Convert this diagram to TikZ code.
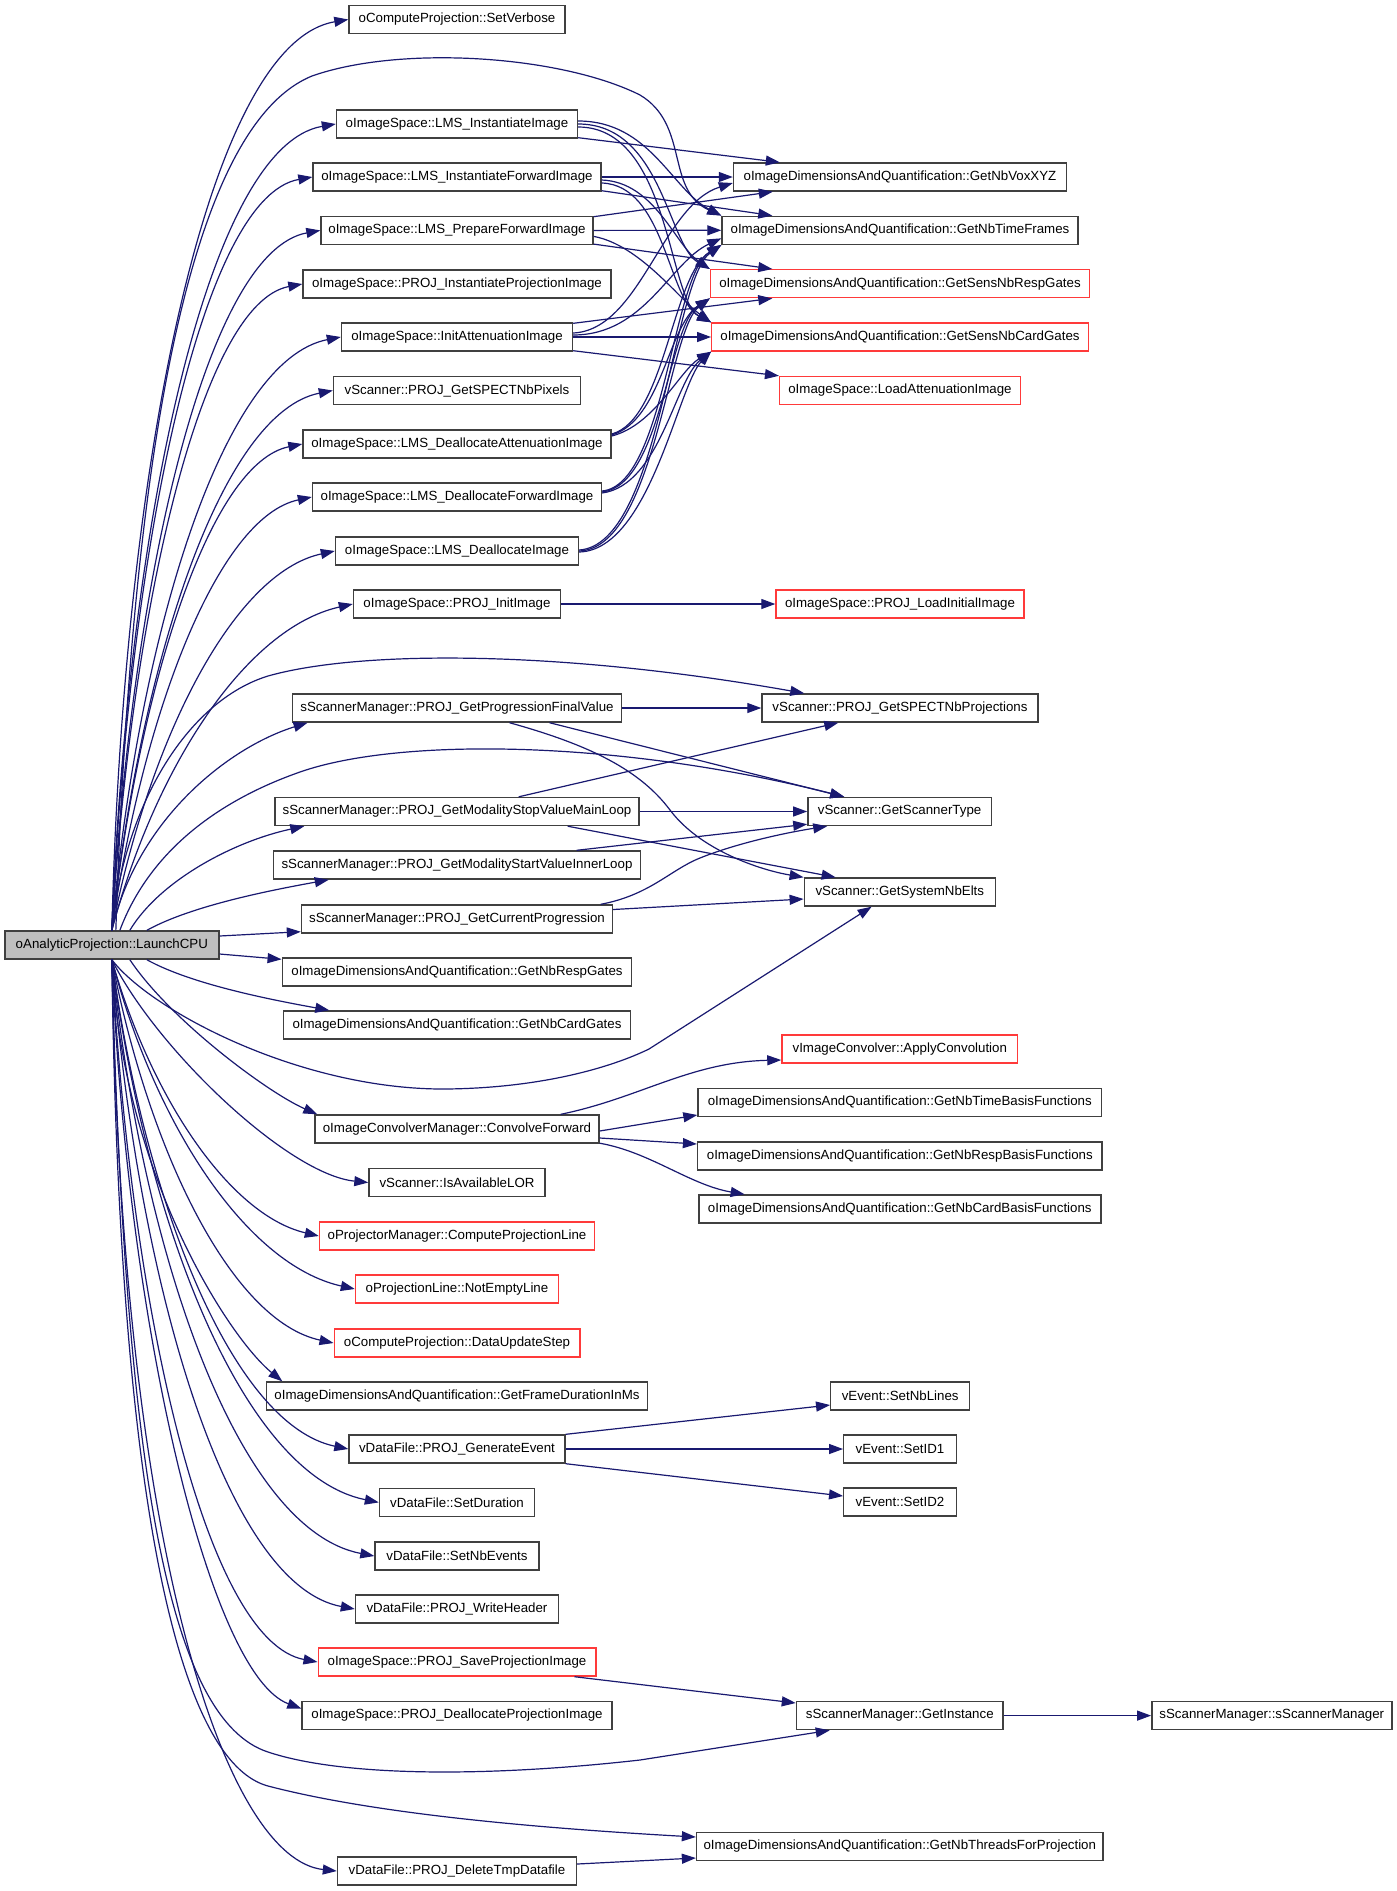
\documentclass[tikz,border=0pt]{standalone}
\usepackage{fontspec}
\setmainfont{Liberation Sans}
\usetikzlibrary{arrows.meta}
\definecolor{edgec}{HTML}{191970}
\definecolor{bordc}{HTML}{404040}
\definecolor{redc}{HTML}{FF3A3A}
\definecolor{rootc}{HTML}{BFBFBF}
\begin{document}
\begin{tikzpicture}[x=1pt,y=-1pt,
 box/.style={draw=bordc,line width=1.4pt,fill=white,minimum height=28pt,inner sep=0pt,font=\fontsize{13.3}{15}\selectfont},
 redbox/.style={box,draw=redc},
 rootbox/.style={box,fill=rootc},
 e/.style={draw=edgec,line width=1.2pt,-{Triangle[length=14pt,width=10pt]}}]
\useasboundingbox (0,0) rectangle (1397,1891);
\fill[white] (0,0) rectangle (1397,1891);
% left column
\node[box,minimum width=216pt] (n1) at (457,19.5) {oComputeProjection::SetVerbose};
\node[box,minimum width=241pt] (n2) at (457,124) {oImageSpace::LMS\_InstantiateImage};
\node[box,minimum width=288pt] (n3) at (457,177) {oImageSpace::LMS\_InstantiateForwardImage};
\node[box,minimum width=272pt] (n4) at (457,230.4) {oImageSpace::LMS\_PrepareForwardImage};
\node[box,minimum width=308pt] (n5) at (457,284) {oImageSpace::PROJ\_InstantiateProjectionImage};
\node[box,minimum width=231pt] (n6) at (457,337) {oImageSpace::InitAttenuationImage};
\node[box,minimum width=247pt] (n7) at (457,390.5) {vScanner::PROJ\_GetSPECTNbPixels};
\node[box,minimum width=308pt] (n8) at (457,444) {oImageSpace::LMS\_DeallocateAttenuationImage};
\node[box,minimum width=289pt] (n9) at (457,497) {oImageSpace::LMS\_DeallocateForwardImage};
\node[box,minimum width=243pt] (n10) at (457,551) {oImageSpace::LMS\_DeallocateImage};
\node[box,minimum width=207pt] (n11) at (457,604) {oImageSpace::PROJ\_InitImage};
\node[box,minimum width=329.5pt] (n12) at (457,708) {sScannerManager::PROJ\_GetProgressionFinalValue};
\node[box,minimum width=364pt] (n13) at (457,811.5) {sScannerManager::PROJ\_GetModalityStopValueMainLoop};
\node[box,minimum width=367pt] (n14) at (457,865) {sScannerManager::PROJ\_GetModalityStartValueInnerLoop};
\node[box,minimum width=311pt] (n15) at (457,919) {sScannerManager::PROJ\_GetCurrentProgression};
\node[rootbox,minimum width=214pt] (L) at (111.85,945) {oAnalyticProjection::LaunchCPU};
\node[box,minimum width=349.5pt] (n16) at (457,972) {oImageDimensionsAndQuantification::GetNbRespGates};
\node[box,minimum width=347pt] (n17) at (457,1025) {oImageDimensionsAndQuantification::GetNbCardGates};
\node[box,minimum width=284pt] (n18) at (457,1129) {oImageConvolverManager::ConvolveForward};
\node[box,minimum width=176pt] (n19) at (457,1182.5) {vScanner::IsAvailableLOR};
\node[redbox,minimum width=275pt] (n20) at (457,1236) {oProjectorManager::ComputeProjectionLine};
\node[redbox,minimum width=203pt] (n21) at (457,1289) {oProjectionLine::NotEmptyLine};
\node[redbox,minimum width=245.6pt] (n22) at (457,1343) {oComputeProjection::DataUpdateStep};
\node[box,minimum width=381pt] (n23) at (457,1396) {oImageDimensionsAndQuantification::GetFrameDurationInMs};
\node[box,minimum width=216pt] (n24) at (457,1449) {vDataFile::PROJ\_GenerateEvent};
\node[box,minimum width=155pt] (n25) at (457,1502.4) {vDataFile::SetDuration};
\node[box,minimum width=164pt] (n26) at (457,1556) {vDataFile::SetNbEvents};
\node[box,minimum width=203pt] (n27) at (457,1609) {vDataFile::PROJ\_WriteHeader};
\node[redbox,minimum width=277.6pt] (n28) at (457,1662) {oImageSpace::PROJ\_SaveProjectionImage};
\node[box,minimum width=310pt] (n29) at (457,1715.5) {oImageSpace::PROJ\_DeallocateProjectionImage};
\node[box,minimum width=239pt] (n30) at (457,1871) {vDataFile::PROJ\_DeleteTmpDatafile};
% right column
\node[box,minimum width=333pt] (r1) at (900,177) {oImageDimensionsAndQuantification::GetNbVoxXYZ};
\node[box,minimum width=356pt] (r2) at (900,230.3) {oImageDimensionsAndQuantification::GetNbTimeFrames};
\node[redbox,minimum width=379pt] (r3) at (900,283.7) {oImageDimensionsAndQuantification::GetSensNbRespGates};
\node[redbox,minimum width=376.5pt] (r4) at (900,337) {oImageDimensionsAndQuantification::GetSensNbCardGates};
\node[redbox,minimum width=240.7pt] (r5) at (900,390.5) {oImageSpace::LoadAttenuationImage};
\node[redbox,minimum width=248pt] (r6) at (900,604) {oImageSpace::PROJ\_LoadInitialImage};
\node[box,minimum width=276pt] (r7) at (900,708) {vScanner::PROJ\_GetSPECTNbProjections};
\node[box,minimum width=183.4pt] (r8) at (899.6,811.5) {vScanner::GetScannerType};
\node[box,minimum width=191pt] (r9) at (899.8,892) {vScanner::GetSystemNbElts};
\node[redbox,minimum width=235.7pt] (r10) at (899.8,1049) {vImageConvolver::ApplyConvolution};
\node[box,minimum width=403.6pt] (r11) at (899.8,1102.5) {oImageDimensionsAndQuantification::GetNbTimeBasisFunctions};
\node[box,minimum width=404.4pt] (r12) at (899.8,1156) {oImageDimensionsAndQuantification::GetNbRespBasisFunctions};
\node[box,minimum width=402pt] (r13) at (899.8,1209) {oImageDimensionsAndQuantification::GetNbCardBasisFunctions};
\node[box,minimum width=139pt] (r14) at (900.2,1396) {vEvent::SetNbLines};
\node[box,minimum width=112.5pt] (r15) at (900,1449) {vEvent::SetID1};
\node[box,minimum width=112.5pt] (r16) at (900,1502) {vEvent::SetID2};
\node[box,minimum width=206.7pt] (r17) at (899.8,1715.6) {sScannerManager::GetInstance};
\node[box,minimum width=406.5pt] (r18) at (899.8,1846.5) {oImageDimensionsAndQuantification::GetNbThreadsForProjection};
\node[box,minimum width=240pt] (s1) at (1271.8,1715.6) {sScannerManager::sScannerManager};
% ---- edges from LaunchCPU, upper fan
\draw[e] (L.north) .. controls +(11,-456) and +(-143,24) .. (n1.west);
\draw[e] ([xshift=4pt]L.north) .. controls (130,500) and (180,130) .. (312,76) .. controls (400,45) and (560,55) .. (640,95) .. controls (690,125) and (665,190) .. (r2.north west);
\draw[e] (L.north) .. controls +(16,-403) and +(-129,22) .. (n2.west);
\draw[e] (L.north) .. controls +(17,-377) and +(-112,20) .. (n3.west);
\draw[e] (L.north) .. controls +(20,-350) and +(-114,21) .. (n4.west);
\draw[e] (L.north) .. controls +(20,-323) and +(-101,19) .. (n5.west);
\draw[e] (L.north) .. controls +(27,-297) and +(-118,23) .. (n6.west);
\draw[e] (L.north) .. controls +(29,-270) and +(-111,22) .. (n7.west);
\draw[e] (L.north) .. controls +(27,-243) and +(-93,19) .. (n8.west);
\draw[e] (L.north) .. controls +(31,-217) and +(-94,20) .. (n9.west);
\draw[e] (L.north) .. controls +(37,-190) and +(-102,22) .. (n10.west);
\draw[e] (L.north) .. controls +(43,-163) and +(-107,24) .. (n11.west);
\draw[e] (L.north) .. controls (125,800) and (190,700) .. (268,676) .. controls (360,650) and (560,650) .. ([xshift=43pt]r7.north west);
\draw[e] (L.north) .. controls +(25,-110) and +(-80,25) .. ([xshift=16pt]n12.south west);
\draw[e] ([xshift=8pt]L.north) .. controls (150,850) and (220,800) .. (300,772) .. controls (400,737) and (620,740) .. ([xshift=37pt]r8.north west);
\draw[e] ([xshift=18pt]L.north) .. controls +(30,-50) and +(-70,15) .. ([xshift=30pt]n13.south west);
\draw[e] ([xshift=35pt]L.north) .. controls +(45,-25) and +(-55,10) .. ([xshift=56pt]n14.south west);
\draw[e] ([yshift=9pt]L.east) -- ([yshift=2pt]n15.south west);
\draw[e] ([yshift=-9pt]L.east) -- ([yshift=-2pt]n16.north west);
% lower fan
\draw[e] ([xshift=35pt]L.south) .. controls +(45,25) and +(-55,-10) .. ([xshift=46.5pt]n17.north west);
\draw[e] (L.south) .. controls (150,1010) and (300,1090) .. (446,1089) .. controls (540,1088) and (610,1068) .. (649,1049) -- ([xshift=68pt]r9.south west);
\draw[e] ([xshift=18pt]L.south) .. controls +(40,60) and +(-50,-22) .. ([xshift=3pt]n18.north west);
\draw[e] (L.south) .. controls +(45,90) and +(-80,-8) .. (n19.west);
\draw[e] (L.south) .. controls +(39,138) and +(-89,-21) .. (n20.west);
\draw[e] (L.south) .. controls +(43,165) and +(-108,-24) .. (n21.west);
\draw[e] (L.south) .. controls +(37,192) and +(-102,-22) .. (n22.west);
\draw[e] (L.south) .. controls +(10,211) and +(-55,-45) .. ([xshift=16.5pt]n23.north west);
\draw[e] (L.south) .. controls +(33,245) and +(-115,-24) .. (n24.west);
\draw[e] (L.south) .. controls +(35,271) and +(-134,-27) .. (n25.west);
\draw[e] (L.south) .. controls +(31,298) and +(-136,-26) .. (n26.west);
\draw[e] (L.south) .. controls +(26,325) and +(-129,-24) .. (n27.west);
\draw[e] (L.south) .. controls +(19,351) and +(-112,-21) .. (n28.west);
\draw[e] (L.south) .. controls +(16,375) and +(-90,-33) .. ([yshift=7pt]n29.west);
\draw[e] (L.south) .. controls (125,1480) and (170,1720) .. (268,1752) .. controls (340,1776) and (480,1778) .. (640,1760) -- ([xshift=34pt]r17.south west);
\draw[e] (L.south) .. controls (120,1560) and (190,1765) .. (268,1786) .. controls (360,1810) and (500,1826) .. ([yshift=9.5pt]r18.west);
\draw[e] (L.south) .. controls +(10,600) and +(-110,-12) .. (n30.west);
% ---- bundle to image dimension getters
\draw[e] ([yshift=1pt]n2.south east) -- ([xshift=47pt]r1.north west);
\draw[e] ([yshift=3pt]n2.east) .. controls (650,121) and (672,190) .. (r2.north west);
\draw[e] (n2.east) .. controls (662,124) and (668,245) .. (r3.north west);
\draw[e] ([yshift=-3pt]n2.east) .. controls (670,127) and (668,300) .. (r4.north west);
\draw[e] (n3.east) -- (r1.west);
\draw[e] ([yshift=1pt]n3.south east) -- ([xshift=51pt]r2.north west);
\draw[e] ([yshift=-3pt]n3.east) .. controls (655,182) and (675,245) .. (r3.north west);
\draw[e] ([yshift=-6pt]n3.east) .. controls (665,185) and (668,300) .. (r4.north west);
\draw[e] ([yshift=-1pt]n4.north east) -- ([xshift=40pt]r1.south west);
\draw[e] (n4.east) -- (r2.west);
\draw[e] ([yshift=1pt]n4.south east) -- ([xshift=62.5pt]r3.north west);
\draw[e] ([yshift=-6pt]n4.east) .. controls (640,245) and (680,300) .. (r4.north west);
\draw[e] ([yshift=4pt]n6.east) .. controls (640,330) and (662,205) .. ([yshift=-6pt]r1.west);
\draw[e] ([yshift=2pt]n6.east) .. controls (645,335) and (670,262) .. ([yshift=-8pt]r2.west);
\draw[e] ([yshift=-1pt]n6.north east) -- ([xshift=62.5pt]r3.south west);
\draw[e] (n6.east) -- (r4.west);
\draw[e] ([yshift=1pt]n6.south east) -- (r5.north west);
\draw[e] ([yshift=10pt]n8.east) .. controls (665,420) and (672,275) .. (r2.south west);
\draw[e] ([yshift=9pt]n8.east) .. controls (662,420) and (668,325) .. (r3.south west);
\draw[e] ([yshift=8pt]n8.east) .. controls (655,425) and (680,370) .. (r4.south west);
\draw[e] ([yshift=6pt]n9.east) .. controls (665,485) and (672,275) .. (r2.south west);
\draw[e] ([yshift=5pt]n9.east) .. controls (662,485) and (668,325) .. (r3.south west);
\draw[e] ([yshift=4pt]n9.east) .. controls (660,485) and (675,380) .. (r4.south west);
\draw[e] ([yshift=1pt]n10.east) .. controls (660,545) and (672,280) .. (r2.south west);
\draw[e] (n10.east) .. controls (655,548) and (668,330) .. (r3.south west);
\draw[e] ([yshift=-1pt]n10.east) .. controls (650,550) and (678,385) .. (r4.south west);
% ---- other edges
\draw[e] (n11.east) -- (r6.west);
\draw[e] (n12.east) -- (r7.west);
\draw[e] ([xshift=-73pt]n12.south east) -- ([xshift=37pt]r8.north west);
\draw[e] ([xshift=-113pt]n12.south east) .. controls (590,745) and (640,770) .. (670,810) .. controls (700,850) and (760,870) .. (r9.north west);
\draw[e] ([xshift=-121pt]n13.north east) -- ([xshift=77pt]r7.south west);
\draw[e] (n13.east) -- (r8.west);
\draw[e] ([xshift=-72pt]n13.south east) -- ([xshift=32pt]r9.north west);
\draw[e] ([xshift=-64.6pt]n14.north east) -- ([yshift=2pt]r8.south west);
\draw[e] ([xshift=-12.5pt]n15.north east) .. controls (650,895) and (670,870) .. (700,858) .. controls (740,842) and (790,832) .. ([xshift=20pt]r8.south west);
\draw[e] ([yshift=9.5pt]n15.east) -- ([yshift=-7pt]r9.west);
\draw[e] ([xshift=-39pt]n18.north east) .. controls (640,1098) and (690,1062) .. ([yshift=-11pt]r10.west);
\draw[e] ([yshift=-2pt]n18.east) -- ([yshift=-12.5pt]r11.west);
\draw[e] ([yshift=-9pt]n18.east) -- ([yshift=12pt]r12.west);
\draw[e] ([yshift=0.5pt]n18.south east) .. controls (650,1152) and (690,1185) .. ([xshift=46.5pt]r13.north west);
\draw[e] (n24.north east) -- ([yshift=-9pt]r14.west);
\draw[e] (n24.east) -- (r15.west);
\draw[e] (n24.south east) -- ([yshift=6pt]r16.west);
\draw[e] ([xshift=-22pt]n28.south east) -- ([yshift=12.6pt]r17.west);
\draw[e] (r17.east) -- (s1.west);
\draw[e] ([yshift=7pt]n30.east) -- ([yshift=-11.5pt]r18.west);
\end{tikzpicture}
\end{document}
